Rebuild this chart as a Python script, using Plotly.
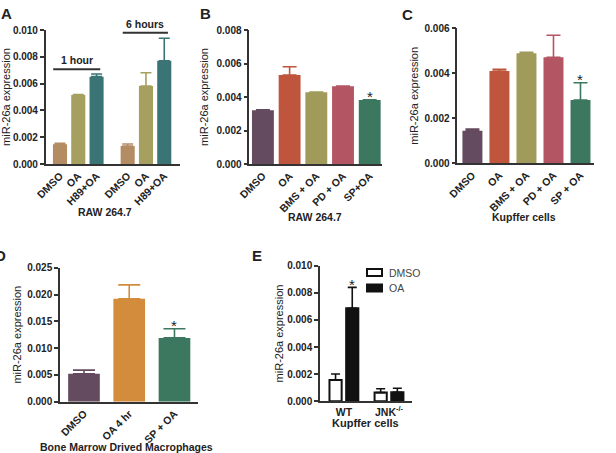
import plotly.graph_objects as go

W, H = 616, 453
FONT = "Arial, 'Liberation Sans', sans-serif"
TXT = "#222222"
AX = "#333333"

# ---------------- data ----------------
# Panel A (RAW 264.7, time course)
a_labels = ["DMSO", "OA", "H89+OA", "DMSO", "OA", "H89+OA"]
a_group = [0, 0, 0, 1, 1, 1]
a_group_names = ["1 hour", "6 hours"]
a_values = [0.00147, 0.00515, 0.00652, 0.00134, 0.00582, 0.00771]
a_errors = [0.00008, 0.00003, 0.00020, 0.00015, 0.00099, 0.00167]
a_colors = ["#b48c64", "#a5a05f", "#3a7474", "#b48c64", "#a5a05f", "#3a7474"]

# Panel B (RAW 264.7, inhibitors)
b_labels = ["DMSO", "OA", "BMS + OA", "PD + OA", "SP+OA"]
b_values = [0.00321, 0.00531, 0.00428, 0.00464, 0.00382]
b_errors = [0.00003, 0.00050, 0.00002, 0.00002, 0.00002]
b_colors = ["#644b5f", "#be553c", "#a09b5a", "#b45564", "#3c785f"]
b_star = [False, False, False, False, True]

# Panel C (Kupffer cells, inhibitors)
c_labels = ["DMSO", "OA", "BMS + OA", "PD + OA", "SP + OA"]
c_values = [0.00145, 0.00410, 0.00489, 0.00471, 0.00281]
c_errors = [0.00007, 0.00008, 0.00004, 0.00098, 0.00077]
c_colors = ["#644b5f", "#be553c", "#a09b5a", "#b45564", "#3c785f"]
c_star = [False, False, False, False, True]

# Panel D (bone marrow derived macrophages)
d_labels = ["DMSO", "OA 4 hr", "SP + OA"]
d_values = [0.0052, 0.0192, 0.0119]
d_errors = [0.0007, 0.0026, 0.0017]
d_colors = ["#644b5f", "#d28c3c", "#3c785f"]
d_star = [False, False, True]

# Panel E (Kupffer cells WT vs JNK-/-)
e_groups = ["WT", "JNK<sup>-/-</sup>"]
e_series = ["DMSO", "OA"]
e_dmso = [0.00157, 0.00064]
e_dmso_err = [0.00044, 0.00029]
e_oa = [0.00686, 0.00066]
e_oa_err = [0.00154, 0.00030]
e_star_oa = [True, False]

# ---------------- helpers ----------------
def px(x):
    return x / W

def py(y):
    return 1 - y / H

def err(arr, color, width):
    return dict(type="data", array=arr, arrayminus=[0] * len(arr), symmetric=False,
                color=color, thickness=1.6, width=width)

fig = go.Figure()

def bars(xs, vals, errs, colors, width, capw, xa, ya):
    for x, v, e, c in zip(xs, vals, errs, colors):
        fig.add_trace(go.Bar(x=[x], y=[v], width=width, marker=dict(color=c, line=dict(width=0)),
                             error_y=err([e], c, capw), xaxis=xa, yaxis=ya, showlegend=False,
                             hoverinfo="skip"))

# Panel A positions (group gap)
GROUP_GAP = 0.7
a_x = [i + a_group[i] * GROUP_GAP for i in range(len(a_labels))]
bars(a_x, a_values, a_errors, a_colors, 0.77, 5.5, "x", "y")
bars(b_labels, b_values, b_errors, b_colors, 0.82, 7, "x2", "y2")
bars(c_labels, c_values, c_errors, c_colors, 0.74, 7, "x3", "y3")
bars(d_labels, d_values, d_errors, d_colors, 0.70, 11, "x4", "y4")

E_FILL = ["white", "#111111"]
for s, (vals, errs, off) in enumerate([(e_dmso, e_dmso_err, -0.32), (e_oa, e_oa_err, 0.05)]):
    fig.add_trace(go.Bar(x=e_groups, y=vals, width=0.27, offset=off, name=e_series[s], showlegend=False,
                         marker=dict(color=E_FILL[s], line=dict(color="#111111", width=2)),
                         error_y=err(errs, "#111111", 4.5), xaxis="x5", yaxis="y5", hoverinfo="skip"))

# ---------------- axes ----------------
tickfont = dict(family=FONT, size=10, color=TXT, weight="bold")
xtickfont = dict(family=FONT, size=10.5, color=TXT, weight="bold")
YTITLE = "miR-26a expression"

def yax(dom_px, rng, dtick, anchor, standoff):
    return dict(domain=[py(dom_px[0]), py(dom_px[1])], range=rng, dtick=dtick, tick0=0,
                tickformat=".3f", showline=True, linecolor=AX, linewidth=1.5,
                ticks="outside", ticklen=4, tickwidth=1.5, tickcolor=AX,
                showgrid=False, zeroline=False, tickfont=tickfont, anchor=anchor, fixedrange=True,
                automargin=False,
                title=dict(text=YTITLE, standoff=standoff, font=dict(family=FONT, size=11, color=TXT)))

def xax(dom_px, rng, anchor, angle=-45, font=xtickfont, **kw):
    d = dict(domain=[px(dom_px[0]), px(dom_px[1])], range=rng, showline=True, linecolor=AX,
             linewidth=1.5, ticks="", showgrid=False, zeroline=False, tickangle=angle,
             tickfont=font, anchor=anchor, fixedrange=True, automargin=False)
    d.update(kw)
    return d

layout = dict(
    width=W, height=H, margin=dict(l=0, r=0, t=0, b=0),
    paper_bgcolor="white", plot_bgcolor="white", barmode="overlay", showlegend=False,
    font=dict(family=FONT, color=TXT),
    xaxis=xax((45.7, 180), [-0.78, 6.56], "y", tickmode="array", tickvals=a_x, ticktext=a_labels),
    yaxis=yax((164, 30), [0, 0.010], 0.002, "x", 4),
    xaxis2=xax((249.3, 382), [-0.51, 4.46], "y2", type="category"),
    yaxis2=yax((164, 30), [0, 0.008], 0.002, "x2", 6),
    xaxis3=xax((457.3, 594), [-0.56, 4.5], "y3", type="category"),
    yaxis3=yax((163.3, 28.3), [0, 0.006], 0.002, "x3", 4),
    xaxis4=xax((60, 198), [-0.53, 2.52], "y4", type="category"),
    yaxis4=yax((401.7, 267.7), [0, 0.025], 0.005, "x4", 3),
    xaxis5=xax((320, 412), [-0.53, 1.51], "y5", angle=0,
               font=dict(family=FONT, size=10.5, color=TXT, weight="bold"), type="category"),
    yaxis5=yax((401.3, 265.7), [0, 0.010], 0.002, "x5", 1),
)
fig.update_layout(**layout)

ann = []
shapes = []
def text(x, y, s, size=10, bold=False, angle=0, xanchor="center", color=TXT):
    ann.append(dict(x=px(x), y=py(y), xref="paper", yref="paper", text=s, showarrow=False,
                    textangle=angle, xanchor=xanchor, yanchor="middle",
                    font=dict(family=FONT, size=size, color=color, weight="bold" if bold else "normal")))

# panel letters
text(6, 13, "A", 15, True)
text(205, 13, "B", 15, True)
text(407, 14, "C", 15, True)
text(8, 255, "D", 15, True, xanchor="right")
text(257, 255, "E", 15, True)

# subtitles
text(105, 212, "RAW 264.7", 10.5, True)
text(315, 217, "RAW 264.7", 10.5, True)
text(524, 217, "Kupffer cells", 10.5, True)
text(126, 447, "Bone Marrow Drived Macrophages", 10.5, True)
text(366, 423, "Kupffer cells", 11, True)

# legend for E (drawn manually to match box shape)
leg_y = [272.5, 288]
for s, name in enumerate(e_series):
    shapes.append(dict(type="rect", xref="paper", yref="paper", x0=px(367), x1=px(382),
                       y0=py(leg_y[s] - 3.5), y1=py(leg_y[s] + 3.5),
                       fillcolor=E_FILL[s], line=dict(color="#111111", width=2)))
    text(387, leg_y[s], name, 10.5, xanchor="left", color="#444444")

# group brackets in A
bracket_y = [0.00707, 0.0098]
for g, name in enumerate(a_group_names):
    xs = [a_x[i] for i in range(len(a_x)) if a_group[i] == g]
    x0 = xs[0] - 0.37 + (0.1 if g == 1 else 0)
    x1 = xs[-1] + 0.2
    shapes.append(dict(type="line", xref="x", yref="y", x0=x0, x1=x1, y0=bracket_y[g], y1=bracket_y[g],
                       line=dict(color="#333333", width=2)))
    ann.append(dict(x=(x0 + x1) / 2, y=bracket_y[g], xref="x", yref="y", text=name, showarrow=False,
                    yanchor="bottom", yshift=1, font=dict(family=FONT, size=10.5, color=TXT, weight="bold")))

# significance stars
def stars(labels, vals, errs, flags, xr, yr, xshift=0):
    for l, v, e, f in zip(labels, vals, errs, flags):
        if f:
            ann.append(dict(x=l, y=v + e, xref=xr, yref=yr, text="*", showarrow=False, yanchor="middle",
                            xshift=xshift, yshift=3, font=dict(family=FONT, size=15, color=TXT)))

stars(b_labels, b_values, b_errors, b_star, "x2", "y2")
stars(c_labels, c_values, c_errors, c_star, "x3", "y3")
stars(d_labels, d_values, d_errors, d_star, "x4", "y4")
stars(e_groups, e_oa, e_oa_err, e_star_oa, "x5", "y5", xshift=8)

fig.update_layout(annotations=ann, shapes=shapes)
fig.write_html("out.html")
